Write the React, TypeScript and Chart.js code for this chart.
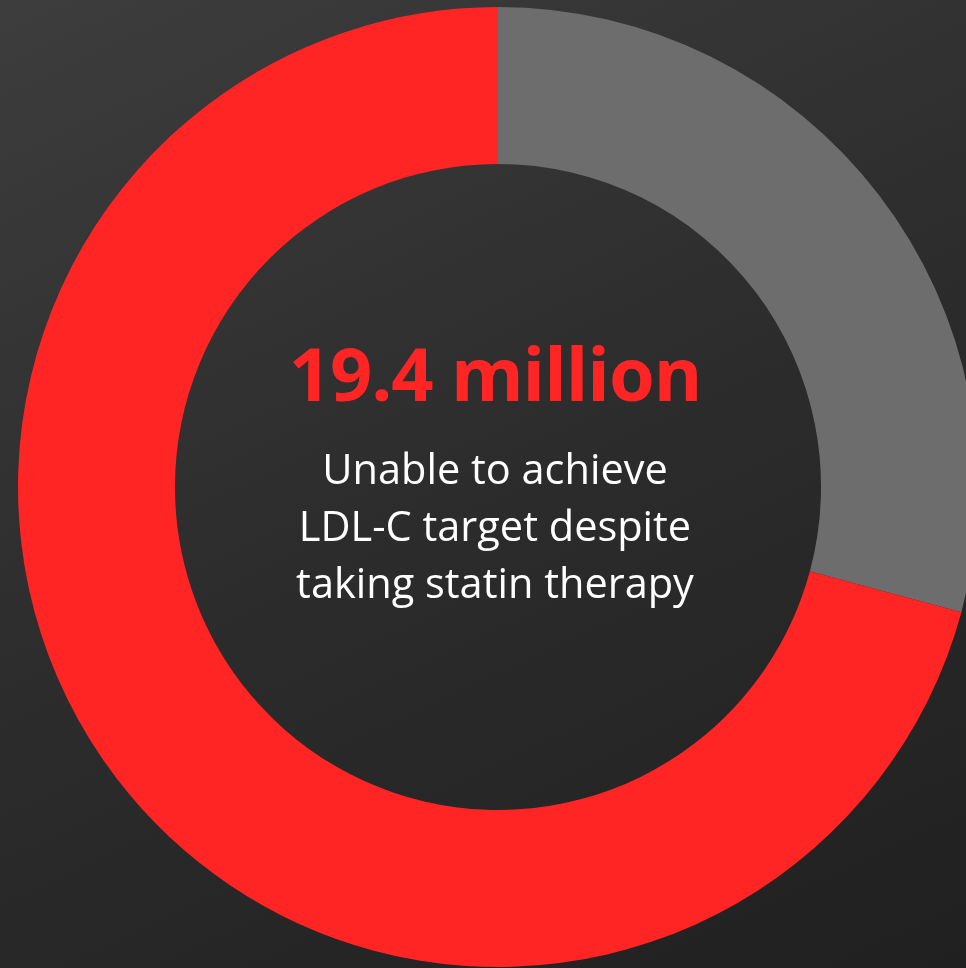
import React, { useEffect, useRef } from "react";
import { Chart, registerables } from "chart.js";

Chart.register(...registerables);

const categories = ["Reaching LDL-C target", "Unable to achieve LDL-C target despite taking statin therapy"];
const shares = [29.2, 70.8];
const sliceColors = ["#6d6d6d", "#ff2525"];
const headline = "19.4 million";
const captionLines = ["Unable to achieve", "LDL-C target despite", "taking statin therapy"];

export default function App() {
  const canvasRef = useRef<HTMLCanvasElement | null>(null);

  useEffect(() => {
    if (!canvasRef.current) return;
    const chart = new Chart(canvasRef.current, {
      type: "doughnut",
      data: {
        labels: categories,
        datasets: [
          {
            data: shares,
            backgroundColor: sliceColors,
            borderWidth: 0,
            hoverOffset: 0,
          },
        ],
      },
      options: {
        animation: false,
        responsive: true,
        maintainAspectRatio: false,
        cutout: "67.3%",
        layout: { padding: { left: 18, top: 7, right: 22, bottom: 1 } },
        plugins: {
          legend: { display: false },
          tooltip: { enabled: false },
        },
      },
    });
    return () => chart.destroy();
  }, []);

  return (
    <div
      style={{
        position: "fixed",
        left: 0,
        top: 0,
        width: 966,
        height: 968,
        overflow: "hidden",
        background: "linear-gradient(155deg, #3d3d3d 0%, #2c2c2c 50%, #202020 100%)",
      }}
    >
      <div style={{ position: "absolute", left: 0, top: 0, width: 1000, height: 968 }}>
        <canvas ref={canvasRef} />
      </div>
      <div
        style={{
          position: "absolute",
          left: 195,
          width: 600,
          top: 336,
          textAlign: "center",
          fontFamily: "'Open Sans', sans-serif",
          fontWeight: 700,
          fontSize: 74,
          lineHeight: "74px",
          letterSpacing: "-1px",
          color: "#ff2525",
          whiteSpace: "nowrap",
        }}
      >
        {headline}
      </div>
      <div
        style={{
          position: "absolute",
          left: 195,
          width: 600,
          top: 440,
          textAlign: "center",
          fontFamily: "'Open Sans', sans-serif",
          fontWeight: 400,
          fontSize: 41.5,
          lineHeight: "57px",
          color: "#ffffff",
          whiteSpace: "nowrap",
        }}
      >
        {captionLines.map((l, i) => (
          <div key={i}>{l}</div>
        ))}
      </div>
    </div>
  );
}
